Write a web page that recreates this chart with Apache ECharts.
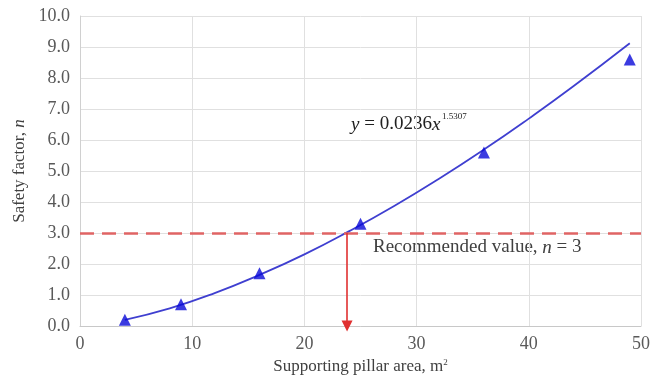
<!DOCTYPE html>
<html>
<head>
<meta charset="utf-8">
<script src="https://cdn.jsdelivr.net/npm/echarts@6/dist/echarts.min.js"></script>
<style>
  html, body { margin: 0; padding: 0; background: #fff; }
  #chart { width: 651px; height: 378px; }
</style>
</head>
<body>
<div id="chart"></div>
<script>
// measured points (area m2, safety factor)
const areas = [4, 9, 16, 25, 36, 49];
const safety = [0.2, 0.7, 1.7, 3.3, 5.6, 8.6];

// fitted curve
const fitX = [4, 8, 12, 16, 20, 24, 28, 32, 36, 40, 44, 49];
const fitY = [0.2, 0.57, 1.06, 1.65, 2.31, 3.06, 3.87, 4.75, 5.69, 6.69, 7.74, 9.12];

const recommended = 3;
const arrowX = 23.8;

const font = 'Liberation Serif';
const chart = echarts.init(document.getElementById('chart'));

chart.setOption({
  animation: false,
  textStyle: { fontFamily: font },
  grid: { left: 80, right: 10, top: 16, bottom: 52, outerBoundsMode: 'none' },
  xAxis: {
    type: 'value',
    min: 0,
    max: 50,
    interval: 10,
    name: 'Supporting pillar area, m{sup|2}',
    nameLocation: 'middle',
    nameGap: 31,
    nameTextStyle: {
      fontFamily: font, fontSize: 17, color: '#404040',
      rich: { sup: { fontSize: 9, verticalAlign: 'top', padding: [0, 0, 9, 0], color: '#404040' } }
    },
    axisLine: { lineStyle: { color: '#c8c8c8' } },
    axisTick: { show: false },
    axisLabel: { fontFamily: font, fontSize: 18, color: '#595959', margin: 9 },
    splitLine: { show: true, lineStyle: { color: '#e0e0e0' } }
  },
  yAxis: {
    type: 'value',
    min: 0,
    max: 10,
    interval: 1,
    name: 'Safety factor, {i|n}',
    nameLocation: 'middle',
    nameGap: 52,
    nameTextStyle: {
      fontFamily: font, fontSize: 17, color: '#404040',
      rich: { i: { fontStyle: 'italic', fontSize: 17, color: '#404040' } }
    },
    axisLine: { show: true, lineStyle: { color: '#d0d0d0' } },
    axisTick: { show: false },
    axisLabel: {
      fontFamily: font, fontSize: 18, color: '#595959', margin: 10,
      formatter: v => v.toFixed(1)
    },
    splitLine: { show: true, lineStyle: { color: '#e0e0e0' } }
  },
  series: [
    {
      type: 'line',
      data: fitX.map((x, i) => [x, fitY[i]]),
      smooth: true,
      showSymbol: false,
      lineStyle: { color: '#3f3fd0', width: 1.8 },
      markLine: {
        silent: true,
        symbol: ['none', 'none'],
        label: { show: false },
        lineStyle: { color: '#e06464', type: [14, 8], width: 2.5 },
        data: [[{ coord: [0, recommended] }, { coord: [50, recommended] }]]
      },
      z: 3
    },
    {
      type: 'scatter',
      data: areas.map((x, i) => [x, safety[i]]),
      symbol: 'triangle',
      symbolSize: 12,
      itemStyle: { color: '#0a0ad8' },
      z: 4
    },
    {
      type: 'line',
      data: [],
      markLine: {
        silent: true,
        symbol: ['none', 'triangle'],
        symbolSize: [11, 11],
        label: { show: false },
        lineStyle: { color: '#e03030', type: 'solid', width: 1.6 },
        data: [[{ coord: [arrowX, recommended] }, { coord: [arrowX, 0] }]]
      }
    }
  ],
  graphic: [
    {
      type: 'text',
      left: 373,
      top: 238,
      style: {
        text: 'Recommended value, {i|n} = 3',
        font: '19px "Liberation Serif"',
        fill: '#404040',
        rich: { i: { fontStyle: 'italic', fontSize: 19, fontFamily: font, fill: '#404040' } }
      }
    },
    {
      type: 'text',
      left: 351,
      top: 115,
      style: {
        text: '{i|y} = 0.0236{i|x}',
        font: '19px "Liberation Serif"',
        fill: '#202020',
        rich: { i: { fontStyle: 'italic', fontSize: 19, fontFamily: font, fill: '#202020' } }
      }
    },
    {
      type: 'text',
      left: 442,
      top: 112,
      style: {
        text: '1.5307',
        font: '9px "Liberation Serif"',
        fill: '#202020'
      }
    }
  ]
});
</script>
</body>
</html>
